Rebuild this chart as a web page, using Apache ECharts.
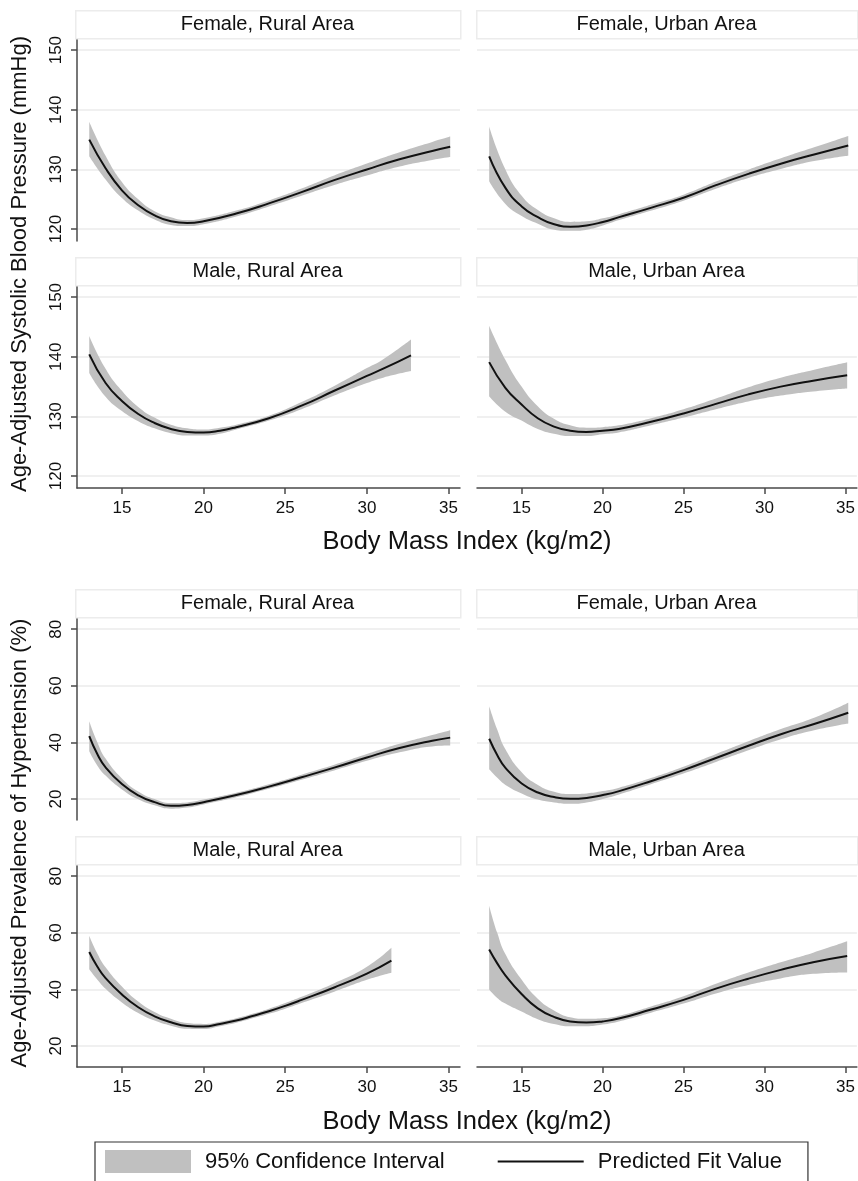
<!DOCTYPE html>
<html><head><meta charset="utf-8">
<script src="https://cdn.jsdelivr.net/npm/echarts@6/dist/echarts.min.js"></script>
<style>html,body{margin:0;padding:0;background:#fff}#c{width:858px;height:1181px}</style>
</head><body><div id="c"></div>
<script>
// ---------- Tick labels ----------
const xTicks = [15, 20, 25, 30, 35];
const bpTicks = [120, 130, 140, 150];
const htTicks = [20, 40, 60, 80];
const panelTitles = ['Female, Rural Area', 'Female, Urban Area', 'Male, Rural Area', 'Male, Urban Area',
                     'Female, Rural Area', 'Female, Urban Area', 'Male, Rural Area', 'Male, Urban Area'];
const bpTitle = 'Age-Adjusted Systolic Blood Pressure (mmHg)';
const htTitle = 'Age-Adjusted Prevalence of Hypertension (%)';
const xTitle = 'Body Mass Index (kg/m2)';
const legendNames = ['95% Confidence Interval', 'Predicted Fit Value'];

// ---------- Systolic BP: Female, Rural ----------
const bpFRBmi = [13, 14, 15, 16, 17, 18, 19, 20, 22, 24, 26, 28, 30, 32, 34, 35.1];
const bpFRFit = [135.0, 130.2, 126.5, 124.0, 122.3, 121.3, 121.0, 121.3, 122.6, 124.3, 126.2, 128.2, 130.0, 131.7, 133.1, 133.8];
const bpFRHi  = [138.0, 132.3, 127.9, 125.0, 123.0, 122.0, 121.5, 121.8, 123.1, 124.8, 126.8, 129.0, 131.0, 132.9, 134.6, 135.5];
const bpFRLo  = [132.2, 128.3, 125.2, 123.1, 121.6, 120.7, 120.5, 120.8, 122.1, 123.8, 125.6, 127.4, 129.0, 130.5, 131.6, 132.1];
// ---------- Systolic BP: Female, Urban ----------
const bpFUBmi = [13, 14, 15, 16, 17, 18, 19, 20, 21, 23, 25, 27, 29, 31, 33, 35.1];
const bpFUFit = [132.2, 126.9, 123.8, 122.0, 120.8, 120.4, 120.6, 121.2, 122.0, 123.6, 125.3, 127.4, 129.3, 131.0, 132.5, 134.0];
const bpFUHi  = [137.2, 130.0, 125.6, 123.2, 121.8, 121.2, 121.3, 121.8, 122.5, 124.1, 125.8, 128.0, 130.0, 131.9, 133.7, 135.6];
const bpFULo  = [128.0, 124.2, 122.2, 120.9, 119.9, 119.7, 119.9, 120.6, 121.5, 123.1, 124.8, 126.8, 128.6, 130.1, 131.4, 132.3];
// ---------- Systolic BP: Male, Rural ----------
const bpMRBmi = [13, 14, 15, 16, 17, 18, 19, 20, 21, 22, 24, 26, 28, 30, 31, 32.7];
const bpMRFit = [140.4, 135.6, 132.6, 130.4, 128.9, 127.9, 127.4, 127.3, 127.6, 128.2, 129.7, 131.8, 134.3, 136.8, 138.0, 140.25];
const bpMRHi  = [143.5, 138.0, 134.3, 131.6, 129.8, 128.6, 128.0, 127.8, 128.1, 128.6, 130.1, 132.4, 135.1, 138.1, 139.6, 142.9];
const bpMRLo  = [137.3, 133.3, 130.9, 129.2, 128.0, 127.2, 126.8, 126.8, 127.1, 127.8, 129.3, 131.2, 133.5, 135.6, 136.5, 137.6];
// ---------- Systolic BP: Male, Urban ----------
const bpMUBmi = [13, 14, 15, 16, 17, 18, 19, 20, 21, 23, 25, 27, 29, 31, 33, 35.1];
const bpMUFit = [139.1, 134.8, 132.0, 129.7, 128.3, 127.6, 127.4, 127.6, 127.9, 129.1, 130.5, 132.1, 133.7, 135.0, 136.0, 136.9];
const bpMUHi  = [145.2, 139.5, 135.0, 131.7, 129.6, 128.5, 128.1, 128.2, 128.5, 129.7, 131.2, 133.0, 134.9, 136.5, 137.8, 139.1];
const bpMULo  = [133.4, 130.8, 129.3, 127.9, 127.1, 126.7, 126.7, 127.0, 127.3, 128.5, 129.8, 131.2, 132.5, 133.5, 134.2, 134.7];

// ---------- Hypertension %: Female, Rural ----------
const htFRBmi = [13, 13.5, 14, 15, 16, 17, 18, 19, 20, 22, 24, 26, 28, 30, 32, 34, 35.1];
const htFRFit = [42.2, 35.8, 31.2, 25.3, 21.3, 18.9, 17.6, 17.9, 18.9, 21.4, 24.4, 27.7, 31.1, 34.7, 38.0, 40.6, 41.7];
const htFRHi  = [47.5, 40.0, 34.3, 27.3, 22.7, 20.0, 18.6, 18.8, 19.8, 22.2, 25.2, 28.6, 32.1, 35.9, 39.5, 42.6, 44.3];
const htFRLo  = [36.9, 31.8, 28.3, 23.4, 19.9, 17.8, 16.6, 17.0, 18.1, 20.6, 23.6, 26.8, 30.1, 33.5, 36.5, 38.6, 38.9];
// ---------- Hypertension %: Female, Urban ----------
const htFUBmi = [13, 13.5, 14, 15, 16, 17, 18, 19, 20, 21, 23, 25, 27, 29, 31, 33, 35.1];
const htFUFit = [41.3, 35.5, 31.0, 25.5, 22.3, 20.7, 20.1, 20.4, 21.4, 22.8, 26.4, 30.3, 34.6, 38.9, 43.0, 46.5, 50.5];
const htFUHi  = [52.8, 44.5, 37.6, 29.5, 25.0, 22.6, 21.8, 22.0, 22.8, 24.0, 27.5, 31.5, 36.0, 40.5, 44.8, 48.7, 54.0];
const htFULo  = [30.5, 27.5, 25.0, 22.0, 19.8, 18.8, 18.3, 18.8, 20.0, 21.6, 25.3, 29.1, 33.2, 37.3, 41.2, 44.3, 46.7];
// ---------- Hypertension %: Male, Rural ----------
const htMRBmi = [13, 13.5, 14, 15, 16, 17, 18, 19, 20, 21, 22, 23, 24, 25, 26, 28, 30, 31.5];
const htMRFit = [53.2, 48.0, 44.0, 38.2, 33.7, 30.5, 28.4, 27.1, 26.9, 27.8, 29.0, 30.6, 32.3, 34.2, 36.3, 40.7, 45.6, 50.2];
const htMRHi  = [59.0, 52.6, 47.8, 41.0, 35.7, 32.0, 29.6, 28.1, 27.8, 28.6, 29.8, 31.4, 33.2, 35.2, 37.4, 42.2, 48.0, 54.7];
const htMRLo  = [47.1, 43.4, 40.2, 35.4, 31.7, 29.0, 27.2, 26.1, 26.0, 27.0, 28.2, 29.8, 31.4, 33.2, 35.2, 39.2, 43.4, 45.9];
// ---------- Hypertension %: Male, Urban ----------
const htMUBmi = [13, 13.5, 14, 15, 16, 17, 18, 19, 20, 21, 23, 25, 27, 29, 31, 33, 35.1];
const htMUFit = [54.1, 49.2, 45.0, 38.4, 33.3, 30.3, 28.7, 28.3, 28.7, 29.7, 32.9, 36.3, 40.3, 43.8, 46.9, 49.6, 51.8];
const htMUHi  = [69.6, 60.0, 52.5, 43.5, 36.7, 32.6, 30.2, 29.6, 29.8, 30.7, 34.0, 37.6, 42.0, 46.0, 49.6, 53.0, 57.0];
const htMULo  = [40.0, 37.0, 35.0, 32.2, 29.5, 27.8, 27.0, 27.0, 27.6, 28.7, 31.8, 35.0, 38.6, 41.6, 43.9, 45.5, 46.0];

// ---------- assemble ----------
const panels = [
  {bmi: bpFRBmi, fit: bpFRFit, hi: bpFRHi, lo: bpFRLo, kind: 'bp'},
  {bmi: bpFUBmi, fit: bpFUFit, hi: bpFUHi, lo: bpFULo, kind: 'bp'},
  {bmi: bpMRBmi, fit: bpMRFit, hi: bpMRHi, lo: bpMRLo, kind: 'bp'},
  {bmi: bpMUBmi, fit: bpMUFit, hi: bpMUHi, lo: bpMULo, kind: 'bp'},
  {bmi: htFRBmi, fit: htFRFit, hi: htFRHi, lo: htFRLo, kind: 'ht'},
  {bmi: htFUBmi, fit: htFUFit, hi: htFUHi, lo: htFULo, kind: 'ht'},
  {bmi: htMRBmi, fit: htMRFit, hi: htMRHi, lo: htMRLo, kind: 'ht'},
  {bmi: htMUBmi, fit: htMUFit, hi: htMUHi, lo: htMULo, kind: 'ht'}
];

// layout (pixels)
const colX = [{left: 77, width: 383}, {left: 477, width: 381}];
const rowTop = [40, 287, 619, 866];
const plotH = 201;
const FONT = '"Liberation Sans", Arial, Helvetica, sans-serif';
const BAND = '#c0c0c0';
const GRIDC = '#ebebeb';
const AXISC = '#4a4a4a';
const SMOOTH = 0.5;

const grids = [], xAxes = [], yAxes = [], series = [], graphics = [];
panels.forEach((p, i) => {
  const col = i % 2, row = Math.floor(i / 2);
  const isBottom = (row === 1 || row === 3);
  const isLeft = col === 0;
  grids.push({left: colX[col].left, top: rowTop[row], width: colX[col].width, height: plotH, containLabel: false});
  xAxes.push({
    type: 'value', gridIndex: i, min: 12.25, max: 35.7,
    axisLine: {show: isBottom, onZero: false, lineStyle: {color: AXISC, width: 1.5}},
    axisTick: {show: isBottom, length: 6, customValues: xTicks, lineStyle: {color: AXISC, width: 1.5}},
    axisLabel: {show: isBottom, customValues: xTicks, fontSize: 17, color: '#111', fontFamily: FONT, margin: 12},
    splitLine: {show: false}
  });
  const yt = p.kind === 'bp' ? bpTicks : htTicks;
  yAxes.push({
    type: 'value', gridIndex: i,
    min: p.kind === 'bp' ? 118 : 12.6, max: p.kind === 'bp' ? 151.7 : 83.6,
    axisLine: {show: isLeft, lineStyle: {color: AXISC, width: 1.5}},
    axisTick: {show: isLeft, length: 6, customValues: yt, lineStyle: {color: AXISC, width: 1.5}},
    axisLabel: {show: isLeft, customValues: yt, rotate: 90, fontSize: 17, color: '#111', fontFamily: FONT, margin: 12},
    splitLine: {show: true, lineStyle: {color: GRIDC, width: 1.5}}
  });
  // data items are [value, bmi] with encode so that stacking happens on the value (y) dimension
  const lowerData = p.bmi.map((x, k) => [p.lo[k], x]);
  const bandData = p.bmi.map((x, k) => [p.hi[k] - p.lo[k], x]);
  const fitData = p.bmi.map((x, k) => [x, p.fit[k]]);
  series.push({
    type: 'line', name: 'lower' + i, xAxisIndex: i, yAxisIndex: i, stack: 'ci' + i,
    data: lowerData, encode: {x: 1, y: 0}, smooth: SMOOTH, symbol: 'none', silent: true,
    lineStyle: {width: 0, opacity: 0}, itemStyle: {color: BAND}, z: 2
  });
  series.push({
    type: 'line', name: legendNames[0], xAxisIndex: i, yAxisIndex: i, stack: 'ci' + i,
    data: bandData, encode: {x: 1, y: 0}, smooth: SMOOTH, symbol: 'none', silent: true,
    lineStyle: {width: 0, opacity: 0}, itemStyle: {color: BAND},
    areaStyle: {color: BAND, opacity: 1}, z: 2
  });
  series.push({
    type: 'line', name: legendNames[1], xAxisIndex: i, yAxisIndex: i,
    data: fitData, smooth: SMOOTH, symbol: 'none', silent: true,
    lineStyle: {color: '#111', width: 2}, itemStyle: {color: '#111'}, z: 3
  });
  // strip title
  const sx = col === 0 ? 75 : 476, sw = col === 0 ? 385 : 381;
  graphics.push({
    type: 'rect', left: sx, top: rowTop[row] - 30,
    shape: {width: sw, height: 28},
    style: {fill: '#fff', stroke: '#ececec', lineWidth: 1.5}, silent: true
  });
  graphics.push({
    type: 'text', x: sx + sw / 2, y: rowTop[row] - 16,
    style: {text: panelTitles[i], fill: '#111', font: '20px ' + FONT, textAlign: 'center', textVerticalAlign: 'middle'},
    silent: true
  });
});

graphics.push({type: 'text', x: 20, y: 264, rotation: Math.PI / 2,
  style: {text: bpTitle, fill: '#111', font: '22px ' + FONT, textAlign: 'center', textVerticalAlign: 'middle'}});
graphics.push({type: 'text', x: 20, y: 843, rotation: Math.PI / 2,
  style: {text: htTitle, fill: '#111', font: '22px ' + FONT, textAlign: 'center', textVerticalAlign: 'middle'}});
graphics.push({type: 'text', x: 467, y: 542,
  style: {text: xTitle, fill: '#111', font: '25.5px ' + FONT, textAlign: 'center', textVerticalAlign: 'middle'}});
graphics.push({type: 'text', x: 467, y: 1122,
  style: {text: xTitle, fill: '#111', font: '25.5px ' + FONT, textAlign: 'center', textVerticalAlign: 'middle'}});

const chart = echarts.init(document.getElementById('c'), null, {renderer: 'canvas'});
chart.setOption({
  animation: false,
  backgroundColor: '#fff',
  grid: grids, xAxis: xAxes, yAxis: yAxes, series: series,
  graphic: graphics,
  legend: {
    data: [
      {name: legendNames[0], icon: 'rect'},
      {name: legendNames[1], icon: 'path://M0,0 M0,23 M0,10.5 L86,10.5 L86,12.5 L0,12.5 Z'}
    ],
    left: 95, top: 1142, orient: 'horizontal',
    itemWidth: 86, itemHeight: 23, itemGap: 53,
    padding: [8, 26, 40, 10],
    borderColor: '#333', borderWidth: 1.2,
    selectedMode: false,
    textStyle: {fontSize: 22, color: '#111', fontFamily: FONT, padding: [0, 0, 0, 9]}
  }
});
</script></body></html>
